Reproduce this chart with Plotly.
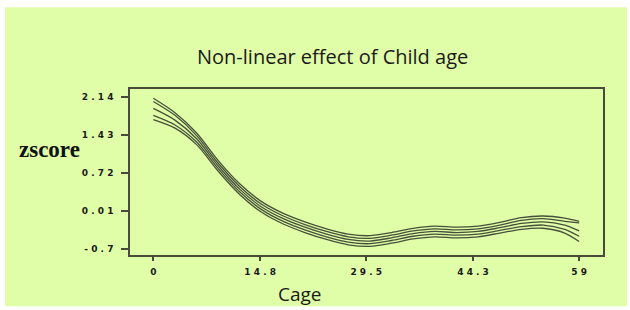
import plotly.graph_objects as go

# ---- data ----
ages = [0, 3, 6, 9, 12, 15, 18, 21, 24, 27, 30, 33, 36, 39, 42, 45, 48, 51, 54, 57, 59]
upper95 = [2.12, 1.85, 1.47, 0.95, 0.51, 0.18, -0.04, -0.20, -0.33, -0.43, -0.46, -0.40, -0.32, -0.28, -0.30, -0.28, -0.21, -0.12, -0.09, -0.13, -0.19]
upper80 = [2.06, 1.80, 1.42, 0.90, 0.46, 0.13, -0.09, -0.25, -0.38, -0.48, -0.51, -0.45, -0.37, -0.33, -0.35, -0.33, -0.26, -0.17, -0.14, -0.19, -0.22]
mean_effect = [1.93, 1.71, 1.36, 0.85, 0.41, 0.08, -0.14, -0.30, -0.43, -0.53, -0.56, -0.50, -0.42, -0.38, -0.40, -0.38, -0.31, -0.23, -0.20, -0.26, -0.37]
lower80 = [1.80, 1.62, 1.30, 0.80, 0.36, 0.03, -0.19, -0.35, -0.48, -0.58, -0.61, -0.55, -0.47, -0.43, -0.45, -0.43, -0.36, -0.29, -0.26, -0.34, -0.47]
lower95 = [1.72, 1.56, 1.25, 0.75, 0.31, -0.02, -0.24, -0.40, -0.53, -0.63, -0.66, -0.60, -0.52, -0.48, -0.50, -0.48, -0.41, -0.34, -0.32, -0.41, -0.57]

x_tick_vals = [0, 14.8, 29.5, 44.3, 59]
x_tick_labels = ["0", "14.8", "29.5", "44.3", "59"]
y_tick_vals = [2.14, 1.43, 0.72, 0.01, -0.7]
y_tick_labels = ["2.14", "1.43", "0.72", "0.01", "-0.7"]

title_text = "Non-linear effect of Child age"
x_title = "Cage"
y_title = "zscore"

# ---- figure ----
W, H = 630, 310
L, R, T, B = 130, 27, 89, 54.5
pw, ph = W - L - R, H - T - B

def px_x(p):
    return (p - L) / pw

def px_y(p):
    return (H - B - p) / ph

BG = "#E0FDA7"
LINE = "#46503a"

fig = go.Figure()
for series in [upper95, upper80, mean_effect, lower80, lower95]:
    fig.add_trace(go.Scatter(x=ages, y=series, mode="lines",
                             line=dict(color=LINE, width=1.3, shape="spline", smoothing=0.8),
                             showlegend=False, hoverinfo="skip"))

tickfont = dict(family="DejaVu Sans", size=9, color="#1a1a1a", weight="bold")

fig.update_xaxes(range=[-3.23, 62.3], tickmode="array", tickvals=x_tick_vals,
                 ticktext=[" ".join(t) for t in x_tick_labels],
                 showgrid=False, zeroline=False, showline=True, mirror=True,
                 linecolor="#4a4a3a", linewidth=1.5,
                 ticks="outside", ticklen=4, tickwidth=1.5, tickcolor="#4a4a3a",
                 tickfont=tickfont, ticklabelstandoff=3)
fig.update_yaxes(range=[-0.822, 2.295], tickmode="array", tickvals=y_tick_vals,
                 ticktext=[" ".join(t) for t in y_tick_labels],
                 showgrid=False, zeroline=False, showline=True, mirror=True,
                 linecolor="#4a4a3a", linewidth=1.5,
                 ticks="outside", ticklen=7, tickwidth=1.5, tickcolor="#4a4a3a",
                 tickfont=tickfont, ticklabelstandoff=6)

fig.add_shape(type="rect", xref="paper", yref="paper",
              x0=px_x(5), x1=px_x(627), y0=px_y(307), y1=px_y(7),
              fillcolor=BG, line=dict(width=0), layer="below")

fig.add_annotation(text=title_text, xref="paper", yref="paper",
                   x=px_x(332), y=px_y(56), xanchor="center", yanchor="middle",
                   showarrow=False, font=dict(family="Open Sans", size=20, color="#1a1a1a"))
fig.add_annotation(text=x_title, xref="paper", yref="paper",
                   x=px_x(300), y=px_y(295), xanchor="center", yanchor="middle",
                   showarrow=False, font=dict(family="Open Sans", size=19, color="#1a1a1a"))
fig.add_annotation(text=y_title, xref="paper", yref="paper",
                   x=px_x(49.5), y=px_y(150), xanchor="center", yanchor="middle",
                   showarrow=False, font=dict(family="Liberation Serif", size=23, color="#111", weight="bold"))

fig.update_layout(width=W, height=H, margin=dict(l=L, r=R, t=T, b=B),
                  paper_bgcolor="white", plot_bgcolor="rgba(0,0,0,0)")

fig.write_html("out.html", config={"displayModeBar": False},
               post_script="document.body.style.margin='0';")
